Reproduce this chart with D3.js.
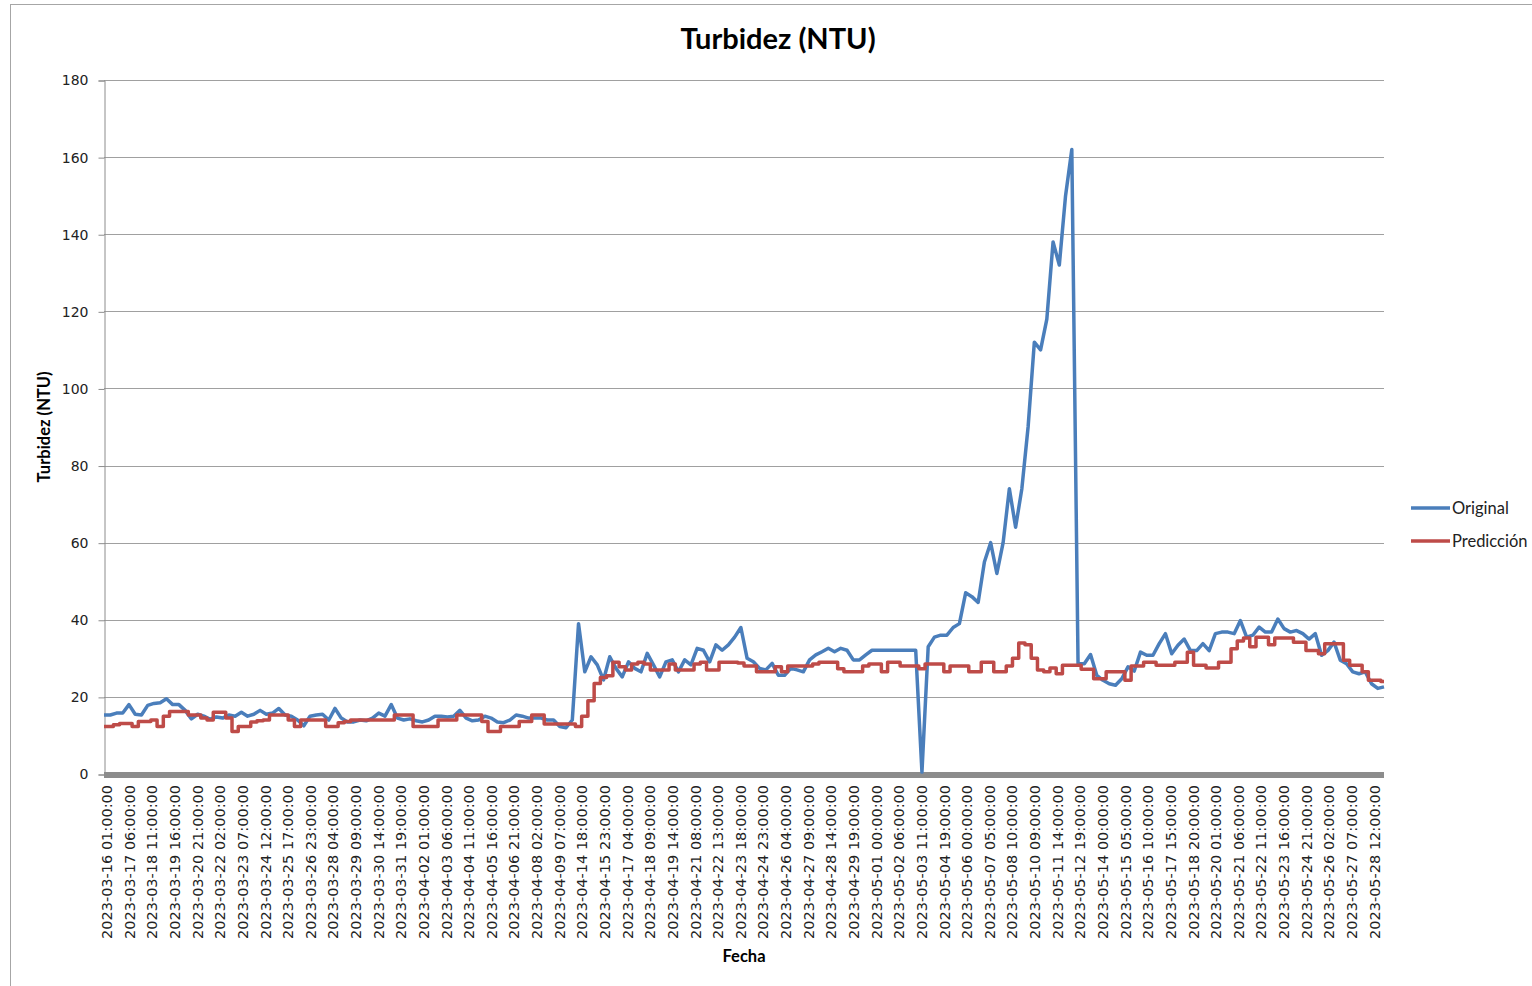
<!DOCTYPE html>
<html>
<head>
<meta charset="utf-8">
<script src="https://cdn.jsdelivr.net/npm/d3@7"></script>
<style>
  body { margin: 0; background: #fff; }
  svg { display: block; }
</style>
</head>
<body>
<svg id="chart" width="1532" height="986"></svg>
<script>
// etiquetas del eje X (una cada 29 horas, categorias de Excel)
const ticksFecha = [
  '2023-03-16 01:00:00', '2023-03-17 06:00:00', '2023-03-18 11:00:00', '2023-03-19 16:00:00',
  '2023-03-20 21:00:00', '2023-03-22 02:00:00', '2023-03-23 07:00:00', '2023-03-24 12:00:00',
  '2023-03-25 17:00:00', '2023-03-26 23:00:00', '2023-03-28 04:00:00', '2023-03-29 09:00:00',
  '2023-03-30 14:00:00', '2023-03-31 19:00:00', '2023-04-02 01:00:00', '2023-04-03 06:00:00',
  '2023-04-04 11:00:00', '2023-04-05 16:00:00', '2023-04-06 21:00:00', '2023-04-08 02:00:00',
  '2023-04-09 07:00:00', '2023-04-14 18:00:00', '2023-04-15 23:00:00', '2023-04-17 04:00:00',
  '2023-04-18 09:00:00', '2023-04-19 14:00:00', '2023-04-21 08:00:00', '2023-04-22 13:00:00',
  '2023-04-23 18:00:00', '2023-04-24 23:00:00', '2023-04-26 04:00:00', '2023-04-27 09:00:00',
  '2023-04-28 14:00:00', '2023-04-29 19:00:00', '2023-05-01 00:00:00', '2023-05-02 06:00:00',
  '2023-05-03 11:00:00', '2023-05-04 19:00:00', '2023-05-06 00:00:00', '2023-05-07 05:00:00',
  '2023-05-08 10:00:00', '2023-05-10 09:00:00', '2023-05-11 14:00:00', '2023-05-12 19:00:00',
  '2023-05-14 00:00:00', '2023-05-15 05:00:00', '2023-05-16 10:00:00', '2023-05-17 15:00:00',
  '2023-05-18 20:00:00', '2023-05-20 01:00:00', '2023-05-21 06:00:00', '2023-05-22 11:00:00',
  '2023-05-23 16:00:00', '2023-05-24 21:00:00', '2023-05-26 02:00:00', '2023-05-27 07:00:00',
  '2023-05-28 12:00:00',
];
const PASO_TICK = 29;   // horas entre etiquetas
const PASO = 8;         // horas entre valores leidos
const N_HORAS = 1640;

const yTicks = [0, 20, 40, 60, 80, 100, 120, 140, 160, 180];

// valores, uno cada PASO horas
const original = [
  15.3, 15.3, 15.8, 15.8, 18, 15.5, 15.3, 17.8, 18.3, 18.5,
  19.5, 18, 18, 16.5, 14.3, 15.5, 15, 14.2, 14.8, 14.5,
  15.3, 15, 16, 15, 15.5, 16.5, 15.5, 15.8, 17, 15.3,
  15, 14, 12.5, 15, 15.3, 15.5, 14, 17, 14.5, 13.5,
  13.5, 14, 13.8, 14.5, 15.8, 15, 18, 14.5, 14, 14.3,
  13.8, 13.5, 14, 15, 15, 14.8, 15, 16.5, 14.5, 13.8,
  14, 15, 14.5, 13.5, 13.3, 14, 15.3, 15, 14.5, 14.5,
  14.5, 14, 14, 12.3, 12, 14, 39, 26.5, 30.4, 28.3,
  24.4, 30.4, 27.4, 25.2, 29.1, 27.4, 26.5, 31.3, 28.3, 25.2,
  29.1, 29.6, 26.5, 29.6, 28.3, 32.6, 32.1, 29.1, 33.5, 32.1,
  33.5, 35.5, 38, 30, 29.1, 27.4, 27, 28.7, 25.6, 25.6,
  27.4, 27, 26.5, 29.6, 30.9, 31.7, 32.6, 31.7, 32.6, 32.1,
  29.6, 29.6, 30.9, 32.1, 32.1, 32.1, 32.1, 32.1, 32.1, 32.1,
  32.1, 0.5, 33, 35.5, 36, 36, 38, 39, 47, 46,
  44.5, 55, 60, 52, 60, 74, 64, 74, 90, 112,
  110, 118, 138, 132, 150, 162, 28.6, 28.6, 31, 25.6,
  24.3, 23.4, 23, 24.7, 27.8, 26.7, 31.6, 30.8, 30.8, 33.8,
  36.4, 31.2, 33.4, 35, 32, 32, 33.8, 32, 36.4, 36.8,
  36.8, 36.4, 39.8, 35.5, 36, 38.1, 36.8, 36.8, 40.2, 37.7,
  36.8, 37.2, 36.4, 35, 36.4, 30.8, 32, 34.2, 29.5, 28.6,
  26.5, 26, 26.5, 23.4, 22.2, 22.6,
];
const prediccion = [
  12.3, 12.3, 12.8, 13.1, 13.1, 12.3, 13.6, 13.6, 14, 12.3,
  15, 16.2, 16.2, 16.2, 15.3, 15.3, 14.5, 14, 16, 16,
  14.5, 11, 12.3, 12.3, 13.5, 13.8, 14, 15.3, 15.3, 15.3,
  14, 12.3, 14, 14, 14, 14, 12.3, 12.3, 13.3, 13.6,
  14, 14, 14, 14, 14, 14, 14, 15.3, 15.3, 15.3,
  12.3, 12.3, 12.3, 12.3, 14, 14, 14, 15.3, 15.3, 15.3,
  15.3, 13.6, 11, 11, 12.3, 12.3, 12.3, 13.6, 13.6, 15.3,
  15.3, 13, 13, 13, 13, 13, 12.3, 15, 19, 23.5,
  25, 25.5, 29, 27.8, 27, 28.5, 29, 28.5, 27, 27,
  27, 28.5, 27, 27, 27, 28.5, 29, 27, 27, 29,
  29, 29, 28.8, 28, 28, 26.5, 26.5, 26.5, 27.8, 26.5,
  28, 28, 28, 28, 28.5, 29, 29, 29, 27.3, 26.5,
  26.5, 26.5, 28, 28.5, 28.5, 26.5, 29, 29, 28, 28,
  28, 27.3, 28.5, 28.5, 28.5, 26.5, 28, 28, 28, 26.5,
  26.5, 29, 29, 26.5, 26.5, 28, 30, 34, 33.5, 30,
  27, 26.5, 27.5, 26, 28.2, 28.2, 28.2, 27.2, 27.2, 24.7,
  24.7, 26.5, 26.5, 26.5, 24.3, 28, 28, 29, 29, 28.2,
  28.2, 28.2, 29, 29, 31.6, 28.2, 28.2, 27.5, 27.5, 29,
  29, 32.5, 34.5, 35.3, 33, 35.5, 35.5, 33.5, 35.3, 35.3,
  35.3, 34.2, 34.2, 32, 32, 31.2, 33.8, 33.8, 33.8, 29.5,
  28.2, 28.2, 26.5, 24.3, 24.3, 24,
];

const series = [
  { name: 'Original', values: original, color: '#4a7ebb', curve: d3.curveLinear },
  { name: 'Predicción', values: prediccion, color: '#be4b48', curve: d3.curveStep },
];

const margin = { top: 80, right: 148, bottom: 212, left: 104 };
const W = 1532, H = 986;
const svg = d3.select('#chart');

// marco exterior
svg.append('rect')
    .attr('x', 10.5).attr('y', 4.5)
    .attr('width', W).attr('height', H)
    .attr('fill', 'none').attr('stroke', '#a6a6a6');

const x = d3.scaleLinear().domain([0, N_HORAS]).range([margin.left, W - margin.right]);
const y = d3.scaleLinear().domain([0, 180]).range([H - margin.bottom, margin.top]);

// rejilla
svg.append('g')
  .selectAll('line')
  .data(yTicks.filter(d => d > 0))
  .enter().append('line')
    .attr('x1', margin.left).attr('x2', W - margin.right)
    .attr('y1', d => Math.round(y(d)) + 0.5).attr('y2', d => Math.round(y(d)) + 0.5)
    .attr('stroke', '#a0a0a0');

// eje Y
const yAxis = svg.append('g')
    .attr('transform', `translate(${margin.left + 0.5},0.5)`)
    .call(d3.axisLeft(y).tickValues(yTicks).tickSize(6).tickPadding(10));
yAxis.select('.domain').attr('stroke', '#8c8c8c');
yAxis.selectAll('.tick line').attr('stroke', '#8c8c8c');
yAxis.selectAll('text')
    .style('font-family', "'DejaVu Sans', Verdana, sans-serif")
    .style('font-size', '14px')
    .attr('fill', '#222');

// eje X: banda de marcas de categoria
svg.append('rect')
    .attr('x', margin.left).attr('y', y(0) - 2)
    .attr('width', x(N_HORAS) - x(0)).attr('height', 6)
    .attr('fill', '#8c8c8c');

svg.append('g')
  .selectAll('text')
  .data(ticksFecha)
  .enter().append('text')
    .attr('transform', (d, i) => `translate(${x(i * PASO_TICK) + 3},${y(0) + 11}) rotate(-90)`)
    .attr('text-anchor', 'end')
    .attr('dy', '0.35em')
    .style('font-family', "'DejaVu Sans', Verdana, sans-serif")
    .style('font-size', '14.5px')
    .attr('fill', '#222')
    .text(d => d);

// lineas
series.forEach(s => {
  const line = d3.line()
      .x((d, i) => x(i * PASO))
      .y(d => y(d))
      .curve(s.curve);
  svg.append('path')
      .datum(s.values)
      .attr('d', line)
      .attr('fill', 'none')
      .attr('stroke', s.color)
      .attr('stroke-width', 3.5)
      .attr('stroke-linejoin', 'round');
});

// titulos
svg.append('text')
    .attr('x', 778).attr('y', 49)
    .attr('text-anchor', 'middle')
    .style('font-family', 'Lato, sans-serif')
    .style('font-weight', 'bold')
    .style('font-size', '29px')
    .text('Turbidez (NTU)');

svg.append('text')
    .attr('transform', 'translate(50,427) rotate(-90)')
    .attr('text-anchor', 'middle')
    .style('font-family', 'Lato, sans-serif')
    .style('font-weight', 'bold')
    .style('font-size', '16.5px')
    .text('Turbidez (NTU)');

svg.append('text')
    .attr('x', 744).attr('y', 962)
    .attr('text-anchor', 'middle')
    .style('font-family', 'Lato, sans-serif')
    .style('font-weight', 'bold')
    .style('font-size', '16.5px')
    .text('Fecha');

// leyenda
const legend = svg.append('g')
  .selectAll('g')
  .data(series)
  .enter().append('g')
    .attr('transform', (d, i) => `translate(1411,${508 + i * 33})`);
legend.append('line')
    .attr('x1', 0).attr('x2', 39)
    .attr('stroke', d => d.color)
    .attr('stroke-width', 3.5);
legend.append('text')
    .attr('x', 41).attr('dy', '0.35em')
    .style('font-family', 'Lato, sans-serif')
    .style('font-size', '16.5px')
    .attr('fill', '#222')
    .text(d => d.name);
</script>
</body>
</html>
